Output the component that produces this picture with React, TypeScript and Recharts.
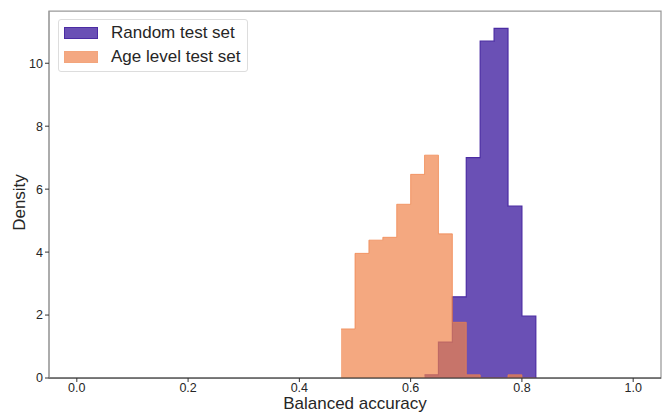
import React from 'react';
import { ComposedChart, Area, XAxis, YAxis, ReferenceArea, Legend, Label } from 'recharts';

const binEdges = [0.475, 0.5, 0.525, 0.55, 0.575, 0.6, 0.625, 0.65, 0.675, 0.7, 0.725, 0.75, 0.775, 0.8, 0.825];
const randomDensity: (number | null)[] = [null, null, null, null, null, null, 0.1, 1.14, 2.58, 7.0, 10.7, 11.11, 5.46, 1.97, 0];
const ageDensity: (number | null)[] = [1.56, 3.96, 4.38, 4.47, 5.52, 6.47, 7.08, 4.58, 1.77, 0.1, 0, 0, 0.1, 0, 0];
const xTicks = [0, 0.2, 0.4, 0.6, 0.8, 1.0];
const yTicks = [0, 2, 4, 6, 8, 10];
const seriesNames = ['Random test set', 'Age level test set'];

const data = binEdges.map((x, i) => ({ x, random: randomDensity[i], age: ageDensity[i] }));

const FONT = '"Liberation Sans", Arial, sans-serif';
const PURPLE = '#6A50B5';
const PURPLE_EDGE = '#4B2CA3';
const ORANGE = '#EF834A';

const LegendBox = () => (
  <div
    style={{
      position: 'absolute',
      left: 58,
      top: 19,
      width: 188,
      height: 51,
      border: '1px solid #dddddd',
      borderRadius: 3,
      background: 'rgba(255,255,255,0.8)',
      fontFamily: FONT,
      fontSize: 17,
      color: '#262626',
    }}
  >
    {seriesNames.map((n, i) => (
      <div key={n} style={{ position: 'absolute', left: 5, top: 6 + i * 24, height: 13, display: 'flex', alignItems: 'center' }}>
        <div
          style={{
            width: 34,
            height: 12,
            background: i === 0 ? PURPLE : '#F4A882',
            border: i === 0 ? `1px solid ${PURPLE_EDGE}` : '1px solid #F3A57C',
            boxSizing: 'border-box',
            flexShrink: 0,
          }}
        />
        <span style={{ marginLeft: 13, whiteSpace: 'nowrap', lineHeight: '13px' }}>{n}</span>
      </div>
    ))}
  </div>
);

export default function App() {
  return (
    <div style={{ position: 'absolute', left: 0, top: 0, width: 665, height: 416, background: '#fff' }}>
      <ComposedChart
        width={665}
        height={416}
        data={data}
        margin={{ top: 11, right: 4, bottom: 0, left: 0 }}
        style={{ fontFamily: FONT }}
      >
        <ReferenceArea
          x1={-0.05}
          x2={1.05}
          y1={0}
          y2={11.66}
          fill="none"
          stroke="#999999"
          strokeWidth={1.25}
          ifOverflow="visible"
        />
        <XAxis
          dataKey="x"
          type="number"
          domain={[-0.05, 1.05]}
          ticks={xTicks}
          allowDataOverflow
          tickFormatter={(v: number) => v.toFixed(1)}
          height={38}
          tickSize={4}
          tickMargin={1}
          stroke="#333333"
          tick={{ fill: '#262626', fontSize: 12.5 }}
        >
          <Label
            content={({ viewBox }: any) => (
              <text
                x={viewBox.x + viewBox.width / 2}
                y={viewBox.y + 31}
                textAnchor="middle"
                fontSize={17}
                fill="#262626"
                fontFamily={FONT}
              >
                Balanced accuracy
              </text>
            )}
          />
        </XAxis>
        <YAxis
          type="number"
          domain={[0, 11.66]}
          ticks={yTicks}
          allowDataOverflow
          width={49}
          tickSize={4}
          tickMargin={2}
          stroke="#999999"
          tickLine={{ stroke: '#333333' }}
          tick={{ fill: '#262626', fontSize: 12.5 }}
        >
          <Label
            content={({ viewBox }: any) => {
              const cx = viewBox.x + 25;
              const cy = viewBox.y + viewBox.height / 2 + 8;
              return (
                <text
                  x={cx}
                  y={cy}
                  transform={`rotate(-90 ${cx} ${cy})`}
                  textAnchor="middle"
                  fontSize={17}
                  fill="#262626"
                  fontFamily={FONT}
                >
                  Density
                </text>
              );
            }}
          />
        </YAxis>
        <Area
          type="stepAfter"
          dataKey="random"
          fill={PURPLE}
          fillOpacity={1}
          stroke={PURPLE_EDGE}
          strokeWidth={1.2}
          isAnimationActive={false}
          connectNulls={false}
          dot={false}
          activeDot={false}
        />
        <Area
          type="stepAfter"
          dataKey="age"
          fill={ORANGE}
          fillOpacity={0.7}
          stroke={ORANGE}
          strokeOpacity={0.7}
          strokeWidth={1}
          isAnimationActive={false}
          dot={false}
          activeDot={false}
        />
        <Legend content={() => null} />
      </ComposedChart>
      <LegendBox />
    </div>
  );
}
